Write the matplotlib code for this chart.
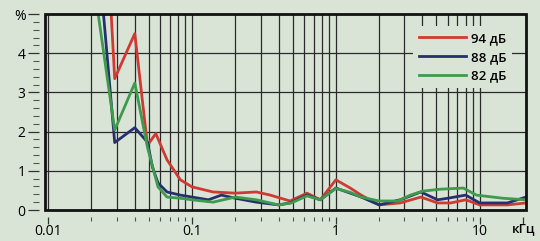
import numpy as np
import matplotlib.pyplot as plt
from matplotlib.patches import Rectangle
from matplotlib.ticker import FixedLocator, NullFormatter

# distortion, % vs frequency, kHz
red_f = [0.025, 0.029, 0.04, 0.049, 0.056, 0.067, 0.083, 0.1, 0.14, 0.2, 0.28, 0.35,
         0.48, 0.63, 0.78, 1.0, 1.26, 1.5, 2.0, 2.8, 3.9, 5.1, 6.3, 8.0, 10, 15.6, 21]
red_v = [7.7, 3.35, 4.5, 1.65, 1.95, 1.28, 0.77, 0.59, 0.46, 0.43, 0.46, 0.38,
         0.23, 0.43, 0.26, 0.77, 0.56, 0.38, 0.13, 0.18, 0.33, 0.18, 0.18, 0.26, 0.13, 0.13, 0.18]

blue_f = [0.02, 0.029, 0.04, 0.049, 0.053, 0.058, 0.067, 0.083, 0.1, 0.13, 0.16, 0.2, 0.28,
          0.4, 0.48, 0.63, 0.78, 1.0, 1.26, 1.5, 2.0, 2.8, 3.9, 5.1, 6.0, 8.0, 10, 15.6, 21]
blue_v = [8.5, 1.72, 2.1, 1.73, 1.1, 0.69, 0.46, 0.38, 0.33, 0.26, 0.38, 0.3, 0.2,
          0.13, 0.18, 0.38, 0.26, 0.56, 0.43, 0.33, 0.13, 0.26, 0.46, 0.26, 0.3, 0.38, 0.18, 0.18, 0.33]

green_f = [0.02, 0.029, 0.04, 0.049, 0.058, 0.067, 0.083, 0.1, 0.14, 0.2, 0.28, 0.4, 0.49,
           0.63, 0.78, 1.0, 1.26, 1.5, 2.0, 2.7, 3.3, 4.0, 5.3, 7.7, 9.5, 14.5, 21]
green_v = [6.2, 2.04, 3.24, 1.6, 0.59, 0.33, 0.3, 0.26, 0.2, 0.33, 0.26, 0.13, 0.18,
           0.36, 0.26, 0.55, 0.45, 0.33, 0.23, 0.23, 0.38, 0.48, 0.53, 0.56, 0.38, 0.3, 0.26]

labels = ['94 дБ', '88 дБ', '82 дБ']
colors = ['#cf3b32', '#27306e', '#3e9a4c']

x_major = [0.01, 0.1, 1, 10, 20]
x_major_labels = ['0.01', '0.1', '1', '10', '']
y_major = [0, 1, 2, 3, 4, 5]
y_major_labels = ['0', '1', '2', '3', '4', '%']

bg = '#d9e4d6'
plt.rcParams['font.family'] = ['Open Sans', 'DejaVu Sans']

fig = plt.figure(figsize=(5.4, 2.41), dpi=100, facecolor=bg)
ax = fig.add_axes([45/540, 1 - 210/241, 481/540, 196/241])
ax.set_facecolor(bg)

for f, v, c, lab in zip([red_f, blue_f, green_f], [red_v, blue_v, green_v], colors, labels):
    ax.plot(f, v, color=c, lw=2, label=lab, zorder=3)

ax.set_xscale('log')
ax.set_xlim(0.0095, 21)
ax.set_ylim(0, 5)

# grid: decades + 2..9, and whole percents
minors = [m * d for d in [0.01, 0.1, 1] for m in range(2, 10)]
ax.xaxis.set_major_locator(FixedLocator(x_major))
ax.xaxis.set_minor_locator(FixedLocator(minors))
ax.xaxis.set_minor_formatter(NullFormatter())
ax.set_xticklabels(x_major_labels, fontsize=9.5, fontweight='semibold')
ax.set_yticks(y_major)
ax.set_yticklabels(y_major_labels, fontsize=9, fontweight='semibold')
ax.set_yticks(np.arange(0, 5.01, 0.2), minor=True)

for x in [0.01, 0.1, 1, 10] + minors:
    ax.axvline(x, color='#2a2a2a', lw=0.9, zorder=1)
for y in [1, 2, 3, 4]:
    ax.axhline(y, color='#2a2a2a', lw=0.9, zorder=1)

for s in ax.spines.values():
    s.set_visible(False)
ax.spines['left'].set_position(('outward', 4))
ax.spines['bottom'].set_position(('outward', 5))
ax.tick_params(axis='x', which='major', length=5, width=0.9, color='#333333', pad=0)
ax.tick_params(axis='x', which='minor', length=3, width=0.8, color='#555555')
ax.tick_params(axis='y', which='major', length=8, width=0.9, color='#333333', pad=2)
ax.tick_params(axis='y', which='minor', length=4, width=0.8, color='#555555')

ax.add_patch(Rectangle((0, 0), 1, 1, transform=ax.transAxes, fill=False,
                       edgecolor='#111111', lw=2, zorder=5, clip_on=False))

leg = ax.legend(loc='upper right', bbox_to_anchor=(0.985, 0.97), frameon=True,
                facecolor=bg, edgecolor='none', framealpha=1, fancybox=False,
                fontsize=9.5, handlelength=3.6, handletextpad=0.4,
                labelspacing=0.45, borderpad=0.4)
leg.set_zorder(4)
for t in leg.get_texts():
    t.set_fontweight('semibold')

fig.text(512/540, 1 - 229/241, 'кГц', fontsize=9.5, fontweight='semibold',
         ha='left', va='center')

fig.savefig('out.png', dpi=100, facecolor=bg)
